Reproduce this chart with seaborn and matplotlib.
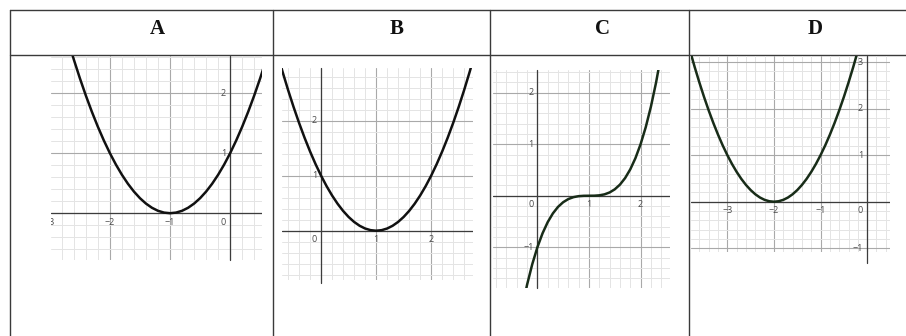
import matplotlib
matplotlib.use("Agg")
import matplotlib.pyplot as plt
import seaborn as sns
from matplotlib.ticker import MultipleLocator

sns.set_style("white")
plt.rcParams['font.family'] = ['Open Sans', 'DejaVu Sans']

# column headers
headers = ["A", "B", "C", "D"]

# curve samples
A_x = [-2.7, -2.6, -2.5, -2.4, -2.3, -2.2, -2.1, -2.0, -1.9, -1.8, -1.7, -1.6,
       -1.5, -1.4, -1.3, -1.2, -1.1, -1.0, -0.9, -0.8, -0.7, -0.6, -0.5, -0.4,
       -0.3, -0.2, -0.1, 0.0, 0.1, 0.2, 0.3, 0.4, 0.5, 0.6]
A_y = [2.89, 2.56, 2.25, 1.96, 1.69, 1.44, 1.21, 1.00, 0.81, 0.64, 0.49, 0.36,
       0.25, 0.16, 0.09, 0.04, 0.01, 0.00, 0.01, 0.04, 0.09, 0.16, 0.25, 0.36,
       0.49, 0.64, 0.81, 1.00, 1.21, 1.44, 1.69, 1.96, 2.25, 2.56]

B_x = [-0.8, -0.7, -0.6, -0.5, -0.4, -0.3, -0.2, -0.1, 0.0, 0.1, 0.2, 0.3, 0.4,
       0.5, 0.6, 0.7, 0.8, 0.9, 1.0, 1.1, 1.2, 1.3, 1.4, 1.5, 1.6, 1.7, 1.8, 1.9,
       2.0, 2.1, 2.2, 2.3, 2.4, 2.5, 2.6, 2.7, 2.8]
B_y = [3.24, 2.89, 2.56, 2.25, 1.96, 1.69, 1.44, 1.21, 1.00, 0.81, 0.64, 0.49,
       0.36, 0.25, 0.16, 0.09, 0.04, 0.01, 0.00, 0.01, 0.04, 0.09, 0.16, 0.25,
       0.36, 0.49, 0.64, 0.81, 1.00, 1.21, 1.44, 1.69, 1.96, 2.25, 2.56, 2.89, 3.24]

C_x = [-0.3, -0.2, -0.1, 0.0, 0.1, 0.2, 0.3, 0.4, 0.5, 0.6, 0.7, 0.8, 0.9, 1.0,
       1.1, 1.2, 1.3, 1.4, 1.5, 1.6, 1.7, 1.8, 1.9, 2.0, 2.1, 2.2, 2.3, 2.4]
C_y = [-2.197, -1.728, -1.331, -1.000, -0.729, -0.512, -0.343, -0.216, -0.125,
       -0.064, -0.027, -0.008, -0.001, 0.000, 0.001, 0.008, 0.027, 0.064, 0.125,
       0.216, 0.343, 0.512, 0.729, 1.000, 1.331, 1.728, 2.197, 2.744]

D_x = [-3.9, -3.8, -3.7, -3.6, -3.5, -3.4, -3.3, -3.2, -3.1, -3.0, -2.9, -2.8,
       -2.7, -2.6, -2.5, -2.4, -2.3, -2.2, -2.1, -2.0, -1.9, -1.8, -1.7, -1.6,
       -1.5, -1.4, -1.3, -1.2, -1.1, -1.0, -0.9, -0.8, -0.7, -0.6, -0.5, -0.4,
       -0.3, -0.2, -0.1]
D_y = [3.61, 3.24, 2.89, 2.56, 2.25, 1.96, 1.69, 1.44, 1.21, 1.00, 0.81, 0.64,
       0.49, 0.36, 0.25, 0.16, 0.09, 0.04, 0.01, 0.00, 0.01, 0.04, 0.09, 0.16,
       0.25, 0.36, 0.49, 0.64, 0.81, 1.00, 1.21, 1.44, 1.69, 1.96, 2.25, 2.56,
       2.89, 3.24, 3.61]

# tick labels shown on each graph
A_xticks, A_yticks = [-3, -2, -1, 0], [1, 2]
B_xticks, B_yticks = [0, 1, 2], [1, 2]
C_xticks, C_yticks = [0, 1, 2], [-1, 1, 2]
D_xticks, D_yticks = [-3, -2, -1, 0], [-1, 1, 2, 3]

W, H = 906, 336
fig = plt.figure(figsize=(W / 100, H / 100), dpi=100)

# table frame
bg = fig.add_axes([0, 0, 1, 1])
bg.set_xlim(0, W)
bg.set_ylim(H, 0)
bg.axis("off")
line_kw = dict(color="#3a3a3a", lw=1.0)
bg.plot([9.5, W], [10, 10], **line_kw)
bg.plot([9.5, W], [55, 55], **line_kw)
for xv in [9.5, 273.3, 489.5, 689]:
    bg.plot([xv, xv], [10, H], **line_kw)
for h, xc in zip(headers, [157, 397, 603, 815]):
    bg.text(xc, 34, h, ha="center", va="baseline", fontsize=15,
            fontweight="bold", family=["Liberation Serif"], color="#111111")


def fmt(v):
    return str(v).replace("-", "\u2212")


def graph(box, xlim, ylim, xs, ys, xt, yt, color, ext=0.0):
    l, t, r, b = box
    ax = fig.add_axes([l / W, 1 - b / H, (r - l) / W, (b - t) / H])
    ax.set_xlim(*xlim)
    ax.set_ylim(*ylim)
    for s in ax.spines.values():
        s.set_visible(False)
    ax.xaxis.set_major_locator(MultipleLocator(1))
    ax.yaxis.set_major_locator(MultipleLocator(1))
    ax.xaxis.set_minor_locator(MultipleLocator(0.2))
    ax.yaxis.set_minor_locator(MultipleLocator(0.2))
    ax.grid(which="minor", color="#e4e4e4", lw=0.7)
    ax.grid(which="major", color="#a9a9a9", lw=0.8)
    ax.tick_params(which="both", length=0, labelbottom=False, labelleft=False)
    ax.set_axisbelow(True)
    ax.patch.set_alpha(0)
    ax.axhline(0, color="#3c3c3c", lw=0.9, zorder=2)
    ax.axvline(0, ymin=-ext, color="#3c3c3c", lw=0.9, zorder=2, clip_on=False)
    sns.lineplot(x=xs, y=ys, ax=ax, color=color, lw=1.8, zorder=3)
    lab = dict(fontsize=6.5, color="#4a4a4a", textcoords="offset pixels",
               annotation_clip=False, clip_on=True)
    for v in xt:
        if v == 0:
            ax.annotate("0", xy=(0, 0), xytext=(-4, -9), ha="right",
                        va="center", **lab)
        else:
            ax.annotate(fmt(v), xy=(v, 0), xytext=(0, -9), ha="center",
                        va="center", **lab)
    for v in yt:
        ax.annotate(fmt(v), xy=(0, v), xytext=(-4, 0), ha="right",
                    va="center", **lab)
    return ax


graph((51, 56, 262, 260), (-2.98, 0.53), (-0.78, 2.62), A_x, A_y,
      A_xticks, A_yticks, "#111111")
graph((282, 68, 473, 280), (-0.71, 2.76), (-0.896, 2.958), B_x, B_y,
      B_xticks, B_yticks, "#111111", ext=0.015)
graph((493, 70, 670, 288), (-0.86, 2.57), (-1.79, 2.44), C_x, C_y,
      C_xticks, C_yticks, "#182c18")
graph((691, 56, 890, 252), (-3.78, 0.49), (-1.08, 3.13), D_x, D_y,
      D_xticks, D_yticks, "#182c18", ext=0.056)

fig.savefig("out.png", dpi=100)
